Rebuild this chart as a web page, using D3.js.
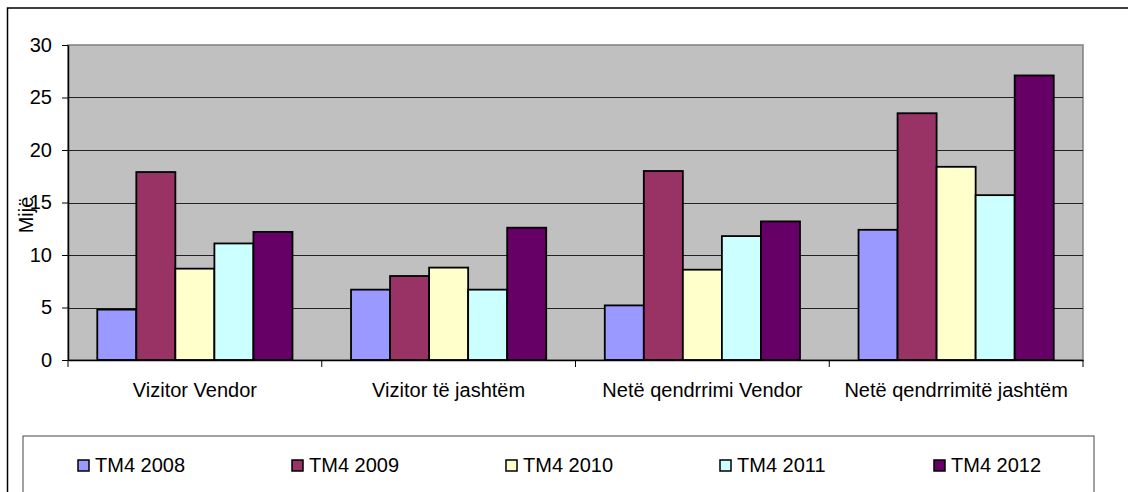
<!DOCTYPE html>
<html>
<head>
	<script src="https://d3js.org/d3.v7.min.js"></script>
	<style>
		body {margin:0; background:#fff;}
		svg text {font-family: Arial, "Liberation Sans", sans-serif; fill:#000;}
	</style>
</head>
<body>
<div id="chart"></div>
<script>
// data (thousands)
var categories = ["Vizitor Vendor", "Vizitor të jashtëm", "Netë qendrrimi Vendor", "Netë qendrrimitë jashtëm"];
var series = ["TM4 2008", "TM4 2009", "TM4 2010", "TM4 2011", "TM4 2012"];
var v2008 = [4.8, 6.7, 5.2, 12.4];
var v2009 = [17.9, 8.0, 18.0, 23.5];
var v2010 = [8.7, 8.8, 8.6, 18.4];
var v2011 = [11.1, 6.7, 11.8, 15.7];
var v2012 = [12.2, 12.6, 13.2, 27.1];
var yTicks = [0, 5, 10, 15, 20, 25, 30];
var colors = ["#9999FF", "#993366", "#FFFFCC", "#CCFFFF", "#660066"];

var values = [v2008, v2009, v2010, v2011, v2012];

var W = 1128, H = 492;
var pLeft = 68, pRight = 1083, pTop = 45, pBottom = 360;
var fontSize = "20px";

var svg = d3.select("#chart").append("svg")
	.attr("width", W)
	.attr("height", H);

// outer chart border (runs off the picture right and bottom)
svg.append("rect")
	.attr("x", 7.5).attr("y", 8)
	.attr("width", 1200).attr("height", 600)
	.style("fill", "#fff").style("stroke", "#000").style("stroke-width", 1.5);

var x0 = d3.scaleBand().domain(categories).range([pLeft, pRight]).paddingInner(0).paddingOuter(0);
var x1 = d3.scaleBand().domain(series).range([0, x0.bandwidth()]).paddingInner(0).paddingOuter(0.75);
var y = d3.scaleLinear().domain([0, 30]).range([pBottom, pTop]);

// plot area
svg.append("rect")
	.attr("x", pLeft).attr("y", pTop)
	.attr("width", pRight - pLeft).attr("height", pBottom - pTop)
	.style("fill", "#C0C0C0").style("stroke", "#808080").style("stroke-width", 1.5);

// gridlines
svg.selectAll("line.grid").data(yTicks.slice(1, -1)).enter().append("line")
	.attr("class", "grid")
	.attr("x1", pLeft).attr("x2", pRight)
	.attr("y1", function(d){ return Math.round(y(d)) + 0.5; })
	.attr("y2", function(d){ return Math.round(y(d)) + 0.5; })
	.style("stroke", "#222").style("stroke-width", 1);

// bars
var groups = svg.selectAll("g.cat").data(categories).enter().append("g")
	.attr("class", "cat")
	.attr("transform", function(d){ return "translate(" + x0(d) + ",0)"; });

groups.selectAll("rect").data(function(d, i){
		return series.map(function(s, j){ return {s: s, v: values[j][i], c: colors[j]}; });
	}).enter().append("rect")
	.attr("x", function(d){ return x1(d.s); })
	.attr("y", function(d){ return y(d.v); })
	.attr("width", x1.bandwidth())
	.attr("height", function(d){ return y(0) - y(d.v); })
	.style("fill", function(d){ return d.c; })
	.style("stroke", "#000").style("stroke-width", 1.8);

// y axis
var yAxis = svg.append("g")
	.attr("transform", "translate(" + pLeft + ",0)")
	.call(d3.axisLeft(y).tickValues(yTicks).tickSize(6).tickPadding(10).tickSizeOuter(0));
yAxis.select(".domain").style("stroke", "#000").style("stroke-width", 1.5);
yAxis.selectAll(".tick line").style("stroke", "#000");
yAxis.selectAll("text").style("font-size", fontSize).style("font-family", "Arial, 'Liberation Sans', sans-serif");

// x axis
var xAxis = svg.append("g")
	.attr("transform", "translate(0," + pBottom + ")")
	.call(d3.axisBottom(x0).tickSize(0).tickPadding(23));
xAxis.select(".domain").style("stroke", "#000").style("stroke-width", 1.5);
xAxis.selectAll("text").style("font-size", fontSize).style("font-family", "Arial, 'Liberation Sans', sans-serif");

// category separator ticks
var sep = categories.map(function(c){ return x0(c); }).concat([pRight]);
svg.selectAll("line.sep").data(sep).enter().append("line")
	.attr("class", "sep")
	.attr("x1", function(d){ return d; }).attr("x2", function(d){ return d; })
	.attr("y1", pBottom).attr("y2", pBottom + 7)
	.style("stroke", "#000").style("stroke-width", 1);

// y title
svg.append("text")
	.attr("transform", "translate(33,215) rotate(-90)")
	.attr("text-anchor", "middle")
	.style("font-size", fontSize)
	.text("Mijë");

// legend
svg.append("rect")
	.attr("x", 23).attr("y", 436)
	.attr("width", 1071).attr("height", 100)
	.style("fill", "#fff").style("stroke", "#444").style("stroke-width", 1);

var leg = svg.selectAll("g.leg").data(series).enter().append("g")
	.attr("class", "leg")
	.attr("transform", function(d, i){ return "translate(" + (78 + i * 214) + ",460)"; });
leg.append("rect")
	.attr("width", 11).attr("height", 11)
	.style("fill", function(d, i){ return colors[i]; })
	.style("stroke", "#000").style("stroke-width", 1.5);
leg.append("text")
	.attr("x", 17).attr("y", 12)
	.style("font-size", fontSize)
	.text(function(d){ return d; });
</script>
</body>
</html>
